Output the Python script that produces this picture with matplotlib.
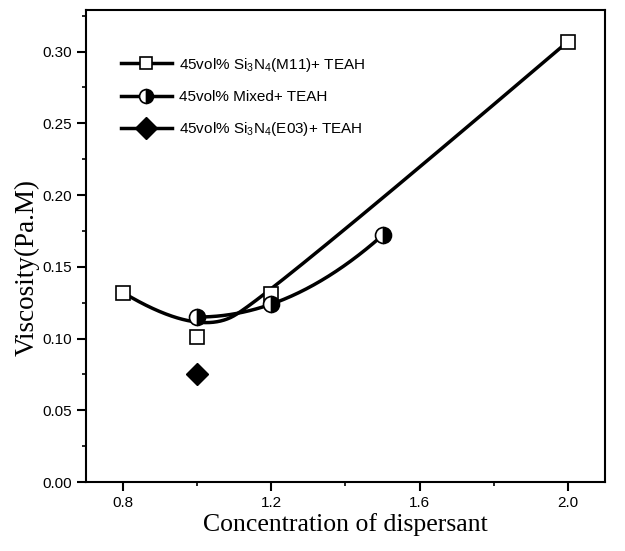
import matplotlib
matplotlib.use("Agg")
import matplotlib.pyplot as plt
from matplotlib.lines import Line2D
import numpy as np

plt.rcParams["font.family"] = "Liberation Sans"
plt.rcParams["mathtext.fontset"] = "custom"
plt.rcParams["mathtext.rm"] = "Liberation Sans"
plt.rcParams["mathtext.it"] = "Liberation Sans:italic"

# Data
m11_x = [0.8, 1.0, 1.2, 2.0]
m11_y = [0.132, 0.101, 0.131, 0.307]
mixed_x = [1.0, 1.2, 1.5]
mixed_y = [0.115, 0.124, 0.172]
e03_x = [1.0]
e03_y = [0.075]

labels = [
    "45vol% Si$_3$N$_4$(M11)+ TEAH",
    "45vol% Mixed+ TEAH",
    "45vol% Si$_3$N$_4$(E03)+ TEAH",
]


def bspline2(xs, ys, n=200):
    # clamped quadratic B-spline using the data points as control points
    px, py = np.array(xs), np.array(ys)
    mx = np.concatenate([[px[0]], (px[1:-2] + px[2:-1]) / 2, [px[-1]]])
    my = np.concatenate([[py[0]], (py[1:-2] + py[2:-1]) / 2, [py[-1]]])
    out_x, out_y = [], []
    t = np.linspace(0, 1, n)
    for i in range(len(mx) - 1):
        cx, cy = px[i + 1], py[i + 1]
        out_x.append((1 - t) ** 2 * mx[i] + 2 * t * (1 - t) * cx + t ** 2 * mx[i + 1])
        out_y.append((1 - t) ** 2 * my[i] + 2 * t * (1 - t) * cy + t ** 2 * my[i + 1])
    return np.concatenate(out_x), np.concatenate(out_y)


fig = plt.figure(figsize=(6.25, 5.51), dpi=100)
ax = fig.add_axes([0.1376, 0.1252, 0.8304, 0.8567])

lw = 2.5

# Smoothed curves
sx, sy = bspline2(m11_x, m11_y)
ax.plot(sx, sy, color="black", linewidth=lw, zorder=2)
coef = np.polyfit(mixed_x, mixed_y, 2)
cx = np.linspace(mixed_x[0], mixed_x[-1], 200)
ax.plot(cx, np.polyval(coef, cx), color="black", linewidth=lw, zorder=2)

# Markers
ax.plot(m11_x, m11_y, linestyle="none", marker="s", markersize=10.5,
        markerfacecolor="white", markeredgecolor="black", markeredgewidth=1.2, zorder=3)
ax.plot(mixed_x, mixed_y, linestyle="none", marker="o", markersize=11.5,
        fillstyle="right", markerfacecolor="black", markerfacecoloralt="white",
        markeredgecolor="black", markeredgewidth=1.2, zorder=4)
ax.plot(e03_x, e03_y, linestyle="none", marker="D", markersize=11,
        color="black", zorder=3)

# Legend
handles = [
    Line2D([], [], color="black", linewidth=lw, marker="s", markersize=9,
           markerfacecolor="white", markeredgecolor="black", markeredgewidth=1.2),
    Line2D([], [], color="black", linewidth=lw, marker="o", markersize=10,
           fillstyle="right", markerfacecolor="black", markerfacecoloralt="white",
           markeredgecolor="black", markeredgewidth=1.2),
    Line2D([], [], color="black", linewidth=lw, marker="D", markersize=11),
]
ax.legend(handles, labels, loc="upper left", bbox_to_anchor=(0.04, 0.932),
          frameon=False, fontsize=11, handlelength=3.4, handletextpad=0.4,
          labelspacing=1.05)

ax.set_xlim(0.7, 2.1)
ax.set_ylim(0, 0.329)
ax.set_xticks([0.8, 1.2, 1.6, 2.0])
ax.set_xticks([1.0, 1.4, 1.8], minor=True)
ax.set_xticklabels(["0.8", "1.2", "1.6", "2.0"])
ax.set_yticks([0.0, 0.05, 0.10, 0.15, 0.20, 0.25, 0.30])
ax.set_yticks(np.arange(0.025, 0.33, 0.05), minor=True)
ax.set_yticklabels(["0.00", "0.05", "0.10", "0.15", "0.20", "0.25", "0.30"])
ax.tick_params(which="major", direction="out", length=6.5, width=1.5, labelsize=11)
ax.tick_params(which="minor", direction="out", length=3, width=1.2)
for s in ax.spines.values():
    s.set_linewidth(1.5)

ax.set_xlabel("Concentration of dispersant", family="Liberation Serif", fontsize=18.5,
              labelpad=2)
ax.set_ylabel("Viscosity(Pa.M)", family="Liberation Serif", fontsize=19.5)
ax.yaxis.set_label_coords(-0.09, 0.455)

fig.savefig("out.png", dpi=100)
